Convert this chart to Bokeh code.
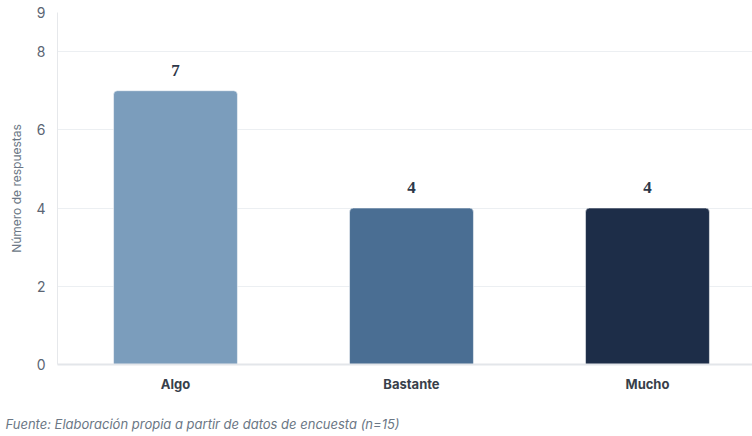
from bokeh.plotting import figure
from bokeh.models import ColumnDataSource, Range1d, FixedTicker, Title, LabelSet
from bokeh.embed import file_html
from bokeh.resources import INLINE

categories = ["Algo", "Bastante", "Mucho"]
values = [7, 4, 4]
colors = ["#7b9dbc", "#4a6e93", "#1d2d48"]
y_ticks = [0, 2, 4, 6, 8, 9]

xs = [i + 0.5 for i in range(len(categories))]
src = ColumnDataSource(dict(x=xs, top=values, color=colors,
                            label=[str(v) for v in values]))

FONT = "Inter"

p = figure(frame_width=695, frame_height=352, output_backend="svg",
           toolbar_location=None,
           x_range=Range1d(0, 2.945), y_range=Range1d(0, 9),
           min_border_left=57, min_border_right=0, min_border_top=12,
           min_border_bottom=72)
p.outline_line_color = None
p.background_fill_color = "white"

p.vbar(x="x", top="top", width=0.525, source=src, fill_color="color",
       line_color="white", line_alpha=0.5, line_width=1,
       border_radius=(4, 4, 0, 0))

labels = LabelSet(x="x", y="top", text="label", source=src, y_offset=15,
                  text_align="center", text_baseline="bottom",
                  text_font=FONT, text_font_size="17px", text_font_style="bold",
                  text_color="#2d3748")
p.add_layout(labels)

# y axis
p.yaxis.ticker = FixedTicker(ticks=y_ticks)
p.yaxis.axis_label = "Número de respuestas"
p.yaxis.axis_label_text_font = FONT
p.yaxis.axis_label_text_font_size = "12px"
p.yaxis.axis_label_text_font_style = "normal"
p.yaxis.axis_label_text_color = "#6b7785"
p.yaxis.axis_label_standoff = 9
p.yaxis.major_label_text_font = FONT
p.yaxis.major_label_text_font_size = "14px"
p.yaxis.major_label_text_color = "#5b6573"
p.yaxis.major_label_standoff = 12
p.yaxis.major_tick_out = 0
p.yaxis.major_tick_in = 0
p.yaxis.minor_tick_out = 0
p.yaxis.minor_tick_in = 0
p.yaxis.major_tick_line_color = None
p.yaxis.minor_tick_line_color = None
p.yaxis.axis_line_color = "#e6e8eb"

# x axis
p.xaxis.ticker = FixedTicker(ticks=xs)
p.xaxis.major_label_overrides = {x: c for x, c in zip(xs, categories)}
p.xaxis.major_label_text_font = FONT
p.xaxis.major_label_text_font_size = "13px"
p.xaxis.major_label_text_font_style = "bold"
p.xaxis.major_label_text_color = "#383f4a"
p.xaxis.major_label_standoff = 11
p.xaxis.major_tick_out = 0
p.xaxis.major_tick_in = 0
p.xaxis.minor_tick_out = 0
p.xaxis.minor_tick_in = 0
p.xaxis.major_tick_line_color = None
p.xaxis.minor_tick_line_color = None
p.xaxis.axis_line_color = "#e3e6ea"
p.xaxis.axis_line_width = 2

p.xgrid.grid_line_color = None
p.ygrid.grid_line_color = "#eceff2"
p.ygrid.grid_line_width = 1

cap = Title(text="Fuente: Elaboración propia a partir de datos de encuesta (n=15)",
            align="left", text_font=FONT, text_font_size="13px",
            text_font_style="italic", text_color="#6b7785",
            offset=-52, standoff=38)
p.add_layout(cap, "below")

open("out.html", "w").write(file_html(p, INLINE))
